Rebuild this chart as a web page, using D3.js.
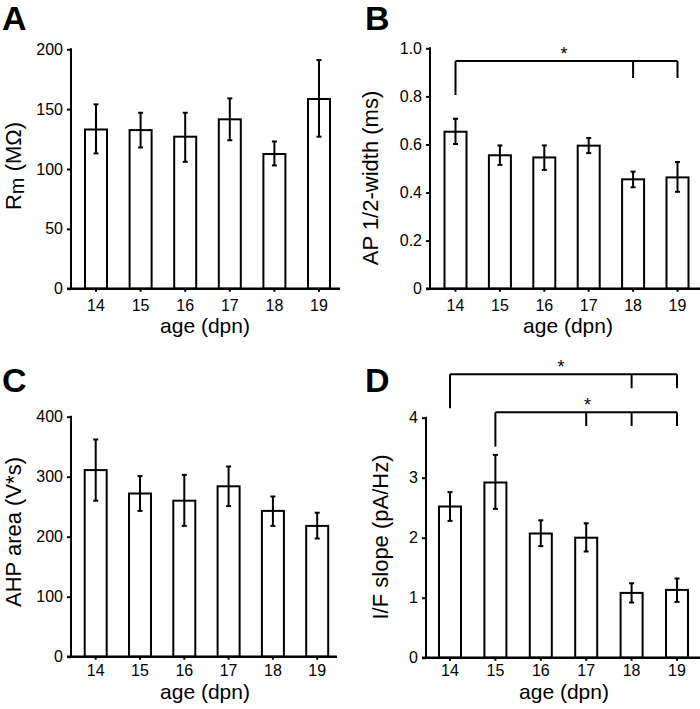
<!DOCTYPE html>
<html>
<head>
<meta charset="utf-8">
<script src="https://cdn.jsdelivr.net/npm/d3@7"></script>
<style>
  html, body { margin: 0; padding: 0; background: #fff; }
  svg { display: block; }
  text { font-family: "Liberation Sans", Arial, Helvetica, sans-serif; fill: #000; }
</style>
</head>
<body>
<svg id="chart" width="700" height="709"></svg>
<script>
// ---- Data ----
const ages = ["14", "15", "16", "17", "18", "19"];

const rmMean  = [133, 132.5, 127, 141.5, 112.5, 158.5];
const rmHigh  = [154, 147, 147, 159, 123, 191];
const rmLow   = [113, 118, 106, 124, 103, 127];

const apMean  = [0.653, 0.555, 0.546, 0.595, 0.455, 0.463];
const apHigh  = [0.707, 0.596, 0.596, 0.627, 0.487, 0.527];
const apLow   = [0.602, 0.515, 0.494, 0.564, 0.422, 0.403];

const ahpMean = [311, 272, 260, 284, 243, 218];
const ahpHigh = [362, 301, 303, 317, 267, 240];
const ahpLow  = [260, 243, 218, 251, 218, 197];

const ifMean  = [2.52, 2.92, 2.07, 2.00, 1.08, 1.13];
const ifHigh  = [2.76, 3.38, 2.29, 2.24, 1.24, 1.32];
const ifLow   = [2.28, 2.48, 1.86, 1.77, 0.92, 0.93];

const rmTicks  = [0, 50, 100, 150, 200];
const apTicks  = [0, 0.2, 0.4, 0.6, 0.8, 1.0];
const ahpTicks = [0, 100, 200, 300, 400];
const ifTicks  = [0, 1, 2, 3, 4];

const panelLetters = ["A", "B", "C", "D"];

// ---- Drawing ----
const svg = d3.select("#chart");
const BAR_W = 22;
const TICK_FS = 16;
const LABEL_FS = 21;

function panel(opt) {
  const g = svg.append("g");
  const step = opt.step;
  const x = d3.scaleBand()
    .domain(ages)
    .range([opt.c0 - step / 2, opt.c0 + step * (ages.length - 0.5)])
    .paddingInner(1 - BAR_W / step)
    .paddingOuter((1 - BAR_W / step) / 2);
  const y = d3.scaleLinear().domain(opt.domain).range([opt.y0, opt.yTop]);

  // bars
  g.selectAll("rect.bar").data(opt.mean).join("rect")
    .attr("class", "bar")
    .attr("x", (d, i) => x(ages[i]))
    .attr("width", x.bandwidth())
    .attr("y", d => y(d))
    .attr("height", d => y(opt.domain[0]) - y(d))
    .attr("fill", "#fff")
    .attr("stroke", "#000")
    .attr("stroke-width", 2);

  // error bars
  const cx = i => x(ages[i]) + x.bandwidth() / 2;
  const eg = g.append("g").attr("stroke", "#000").attr("stroke-width", 2);
  opt.mean.forEach((m, i) => {
    eg.append("line").attr("x1", cx(i)).attr("x2", cx(i))
      .attr("y1", y(opt.high[i])).attr("y2", y(opt.low[i]));
    [opt.high[i], opt.low[i]].forEach(v => {
      eg.append("line").attr("x1", cx(i) - 2.5).attr("x2", cx(i) + 2.5)
        .attr("y1", y(v)).attr("y2", y(v));
    });
  });

  // y axis
  const yAxis = d3.axisLeft(y).tickValues(opt.ticks).tickSize(4).tickPadding(4)
    .tickFormat(opt.fmt);
  const ya = g.append("g").attr("transform", `translate(${opt.ax},0)`).call(yAxis);
  ya.attr("font-size", TICK_FS).attr("font-family", null);
  ya.select(".domain").remove();
  ya.selectAll(".tick line").attr("stroke", "#000").attr("stroke-width", 2);
  ya.selectAll(".tick text").attr("font-size", TICK_FS).attr("fill", "#000");
  g.append("line").attr("x1", opt.ax).attr("x2", opt.ax)
    .attr("y1", opt.yTop - 1).attr("y2", opt.y0)
    .attr("stroke", "#000").attr("stroke-width", 2);

  // x axis
  const xAxis = d3.axisBottom(x).tickSize(3).tickPadding(opt.xPad);
  const xa = g.append("g").attr("transform", `translate(0,${opt.y0})`).call(xAxis);
  xa.attr("font-size", TICK_FS).attr("font-family", null);
  xa.select(".domain").remove();
  xa.selectAll(".tick line").attr("stroke", "#000").attr("stroke-width", 2);
  xa.selectAll(".tick text").attr("font-size", TICK_FS).attr("fill", "#000");
  g.append("line").attr("x1", opt.ax - 4).attr("x2", opt.xEnd)
    .attr("y1", opt.y0).attr("y2", opt.y0)
    .attr("stroke", "#000").attr("stroke-width", 2.5);

  // x label
  g.append("text").attr("x", opt.xlabX).attr("y", opt.y0 + opt.xlabDy)
    .attr("text-anchor", "middle").attr("font-size", LABEL_FS).text("age (dpn)");

  // y label
  const yl = g.append("text")
    .attr("transform", `translate(${opt.ylabX},${opt.ylabY}) rotate(-90)`)
    .attr("text-anchor", "middle").attr("font-size", 22);
  if (opt.ylabParts) {
    yl.append("tspan").text(opt.ylabParts[0]);
    yl.append("tspan").attr("dy", 3).attr("font-size", 20).text(opt.ylabParts[1]);
    yl.append("tspan").attr("dy", -3).text(opt.ylabParts[2]);
  } else {
    yl.text(opt.ylab);
  }

  // panel letter
  g.append("text").attr("x", opt.letterX).attr("y", opt.letterY)
    .attr("font-size", 34).attr("font-weight", "bold").text(opt.letter);

  // significance brackets
  (opt.brackets || []).forEach(b => {
    const bg = g.append("g").attr("stroke", "#000").attr("stroke-width", 2).attr("fill", "none");
    const xs = b.to.map(a => x(a) + x.bandwidth() / 2);
    const x1 = x(b.from) + x.bandwidth() / 2;
    const xMax = d3.max(xs);
    bg.append("line").attr("x1", x1).attr("x2", xMax).attr("y1", b.y).attr("y2", b.y);
    bg.append("line").attr("x1", x1).attr("x2", x1).attr("y1", b.y).attr("y2", b.fromBottom);
    xs.forEach(xx => bg.append("line").attr("x1", xx).attr("x2", xx)
      .attr("y1", b.y).attr("y2", b.toBottom));
    g.append("text").attr("x", b.starX).attr("y", b.y - 1)
      .attr("text-anchor", "middle").attr("font-size", 18).text("*");
  });
}

panel({
  letter: panelLetters[0], letterX: 2, letterY: 30,
  mean: rmMean, high: rmHigh, low: rmLow,
  domain: [0, 200], ticks: rmTicks, fmt: d3.format("d"),
  ax: 71, xEnd: 340, y0: 288.7, yTop: 49.3, c0: 96, step: 44.6, xPad: 8,
  xlabX: 205, xlabDy: 44, ylabX: 21, ylabY: 166, ylabParts: ["R", "m", " (MΩ)"]
});

panel({
  letter: panelLetters[1], letterX: 365, letterY: 30,
  mean: apMean, high: apHigh, low: apLow,
  domain: [0, 1], ticks: apTicks, fmt: d => d === 0 ? "0" : d3.format(".1f")(d),
  ax: 430, xEnd: 700, y0: 288.7, yTop: 48.3, c0: 455.5, step: 44.4, xPad: 8,
  xlabX: 568, xlabDy: 44, ylabX: 378, ylabY: 178, ylab: "AP 1/2-width (ms)",
  brackets: [{ from: "14", to: ["18", "19"], y: 61, fromBottom: 95, toBottom: 78, starX: 564 }]
});

panel({
  letter: panelLetters[2], letterX: 2, letterY: 392,
  mean: ahpMean, high: ahpHigh, low: ahpLow,
  domain: [0, 400], ticks: ahpTicks, fmt: d3.format("d"),
  ax: 71, xEnd: 337, y0: 656.7, yTop: 416.7, c0: 95.7, step: 44.3, xPad: 5,
  xlabX: 205, xlabDy: 42.5, ylabX: 21, ylabY: 532, ylab: "AHP area (V*s)"
});

panel({
  letter: panelLetters[3], letterX: 365, letterY: 392,
  mean: ifMean, high: ifHigh, low: ifLow,
  domain: [0, 4], ticks: ifTicks, fmt: d3.format("d"),
  ax: 426, xEnd: 700, y0: 657.7, yTop: 417.7, c0: 450, step: 45.4, xPad: 4,
  xlabX: 564, xlabDy: 41.5, ylabX: 388, ylabY: 537, ylab: "I/F slope (pA/Hz)",
  brackets: [
    { from: "14", to: ["18", "19"], y: 374.3, fromBottom: 408.3, toBottom: 388.3, starX: 561 },
    { from: "15", to: ["17", "18", "19"], y: 412.3, fromBottom: 446.7, toBottom: 426, starX: 587.5 }
  ]
});
</script>
</body>
</html>
